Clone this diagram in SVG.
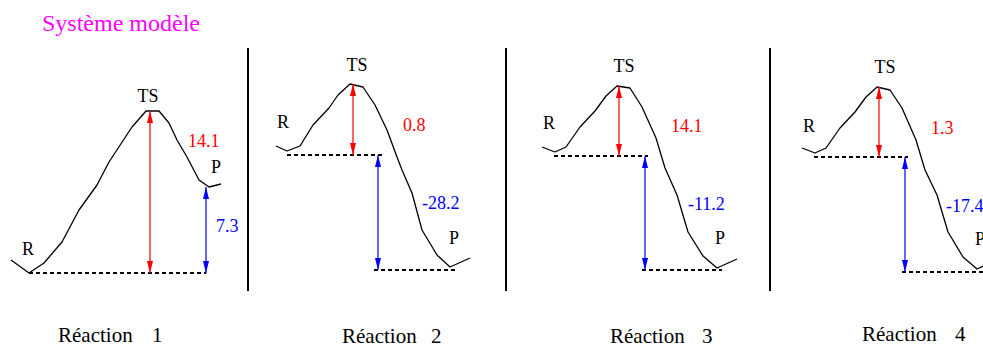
<svg xmlns="http://www.w3.org/2000/svg" width="983" height="348" viewBox="0 0 983 348" font-family="'Liberation Serif', 'Times New Roman', 'DejaVu Serif', serif">
<style>
text{font-family:'Liberation Serif','Times New Roman','DejaVu Serif',serif;font-size:18px;fill:#000}
.title{font-size:24px;fill:#ff00ff}
.rx{font-size:21px}
.red{fill:#ff0000}
.blue{fill:#0000ff}
.curve{fill:none;stroke:#000;stroke-width:1.3;stroke-linejoin:round}
.dash{stroke:#000;stroke-width:2;stroke-dasharray:4 3;fill:none}
.sep{stroke:#000;stroke-width:2}
.ar{stroke:#ff0000;stroke-width:1.2;marker-start:url(#mr);marker-end:url(#mr)}
.ab{stroke:#0000ff;stroke-width:1.2;marker-start:url(#mb);marker-end:url(#mb)}
</style>
<defs>
<marker id="mr" viewBox="0 0 12 6" refX="12" refY="3" markerWidth="12" markerHeight="6" orient="auto-start-reverse" markerUnits="userSpaceOnUse"><path d="M0,0 L12,3 L0,6 Z" fill="#ff0000"/></marker>
<marker id="mb" viewBox="0 0 12 6" refX="12" refY="3" markerWidth="12" markerHeight="6" orient="auto-start-reverse" markerUnits="userSpaceOnUse"><path d="M0,0 L12,3 L0,6 Z" fill="#0000ff"/></marker>
</defs>
<rect width="983" height="348" fill="#fff"/>
<text class="title" x="42" y="31">Système modèle</text>
<g id="separators">
<line class="sep" x1="248" y1="48" x2="248" y2="291"/>
<line class="sep" x1="506" y1="48" x2="506" y2="291"/>
<line class="sep" x1="770" y1="48" x2="770" y2="291"/>
</g>
<g id="reaction1">
<polyline class="curve" points="11,260 29,273 44,263 62,242 79,210 97,185 109,162 132,127 146,111 159,111 169,123 177,140 187,157 199,180 209,187 221,184"/>
<line class="dash" x1="29" y1="273" x2="206" y2="273"/>
<text x="148" y="102" text-anchor="middle">TS</text>
<text x="22" y="255">R</text>
<text x="211" y="173">P</text>
<text class="red" x="188" y="147">14.1</text>
<text class="blue" x="216" y="232">7.3</text>
<text class="rx" x="58" y="342">Réaction</text>
<text class="rx" x="152" y="342">1</text>
</g>
<g id="reaction2">
<polyline class="curve" points="276,146 287,151 300,146 313,125 329,108 338,95 350,84 363,87 375,105 387,130 397,157 402,170 412,193 422,230 437,255 450,267 470,258"/>
<line class="dash" x1="287" y1="155" x2="382" y2="155"/>
<line class="dash" x1="374" y1="270" x2="455" y2="270"/>
<text x="357" y="71" text-anchor="middle">TS</text>
<text x="277" y="128">R</text>
<text x="449" y="244">P</text>
<text class="red" x="403" y="131">0.8</text>
<text class="blue" x="422" y="209">-28.2</text>
<text class="rx" x="342" y="343">Réaction</text>
<text class="rx" x="431" y="343">2</text>
</g>
<g id="reaction3">
<polyline class="curve" points="542,147 555,152 566,147 580,127 595,111 606,96 617,86 630,88 642,107 656,138 665,168 677,195 688,232 703,256 717,268 737,259"/>
<line class="dash" x1="554" y1="156" x2="648" y2="156"/>
<line class="dash" x1="642" y1="270" x2="722" y2="270"/>
<text x="624" y="72" text-anchor="middle">TS</text>
<text x="543" y="129">R</text>
<text x="715" y="244">P</text>
<text class="red" x="671" y="132">14.1</text>
<text class="blue" x="688" y="210">-11.2</text>
<text class="rx" x="610" y="343">Réaction</text>
<text class="rx" x="702" y="343">3</text>
</g>
<g id="reaction4">
<polyline class="curve" points="802,148 815,153 826,148 840,128 855,112 866,97 877,87 890,90 902,108 916,140 925,170 937,195 948,232 963,257 977,269 990,263"/>
<line class="dash" x1="814" y1="157" x2="908" y2="157"/>
<line class="dash" x1="902" y1="272" x2="990" y2="272"/>
<text x="885" y="73" text-anchor="middle">TS</text>
<text x="803" y="132">R</text>
<text x="975" y="245">P</text>
<text class="red" x="931" y="134">1.3</text>
<text class="blue" x="946" y="212">-17.4</text>
<text class="rx" x="862" y="341">Réaction</text>
<text class="rx" x="955" y="341">4</text>
</g>
<g id="connectors">
<line class="ar" x1="150" y1="273" x2="150" y2="111"/>
<line class="ab" x1="206" y1="273" x2="206" y2="187"/>
<line class="ar" x1="353" y1="155" x2="353" y2="84"/>
<line class="ab" x1="378" y1="270" x2="378" y2="155"/>
<line class="ar" x1="619" y1="156" x2="619" y2="86"/>
<line class="ab" x1="645" y1="270" x2="645" y2="156"/>
<line class="ar" x1="879" y1="157" x2="879" y2="87"/>
<line class="ab" x1="905" y1="272" x2="905" y2="157"/>
</g>
</svg>
